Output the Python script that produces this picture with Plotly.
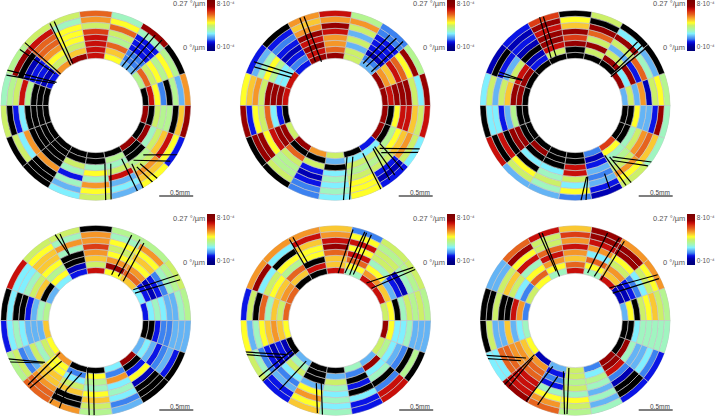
import plotly.graph_objects as go

# colour levels (x 10^-4), X = black (out of range)
N,B,M,L,C,A,G,Y,y,g,O,D,r,R,K = 0.5,1,1.5,2,2.5,3,3.5,4,4.5,5,5.5,6,6.5,7,7.5
X = None

# rows: 18 sectors counter-clockwise from east; columns: 8 rings inner -> outer
panel1 = [[X,R,y,M,X,G,L,O],[G,D,Y,y,G,y,G,X],[L,M,M,B,B,B,A,K],[y,g,D,G,Y,D,y,A],[R,R,R,R,r,Y,O,D],
          [K,g,Y,y,y,y,A,Y],[O,Y,y,O,D,D,R,Y],[B,N,B,B,N,X,K,G],[X,X,X,G,R,Y,G,A],[X,X,X,X,C,B,X,Y],
          [X,X,X,X,O,C,Y,X],[X,X,X,X,O,X,X,X],[X,X,Y,A,B,A,L,C],[X,X,A,y,A,O,y,Y],[X,G,A,Y,R,L,C,L],
          [K,X,X,G,Y,O,g,y],[X,K,A,Y,g,R,y,B],[K,X,Y,G,G,X,g,K]]
panel2 = [[K,R,K,K,K,Y,C,K],[K,O,g,R,D,y,K,G],[L,M,N,B,B,B,M,M],[Y,Y,L,Y,L,Y,O,G],[K,D,O,O,R,K,O,R],
          [K,R,K,R,K,O,g,O],[B,M,B,N,B,M,B,X],[R,C,C,G,y,A,L,B],[R,K,K,K,Y,O,g,y],[X,B,C,D,Y,y,B,K],
          [Y,K,K,R,y,K,K,X],[K,X,D,Y,G,G,Y,X],[O,X,Y,B,N,B,M,M],[Y,L,X,C,A,C,A,C],[X,C,Y,G,Y,y,y,y],
          [B,C,Y,G,Y,B,N,B],[K,X,G,y,g,O,Y,C],[K,X,y,R,R,g,Y,R]]
panel3 = [[L,Y,L,O,N,Y,y,G],[K,C,K,B,D,A,L,X],[X,K,Y,L,Y,K,C,X],[X,Y,K,Y,D,K,X,Y],[X,X,K,r,K,g,y,X],
          [X,Y,R,K,K,R,K,r],[X,B,N,X,N,B,N,B],[X,K,R,Y,L,B,X,N],[X,K,K,g,Y,L,Y,C],[X,X,G,L,B,C,C,X],
          [X,X,K,K,X,R,X,R],[X,K,X,C,X,y,Y,L],[X,X,X,C,A,Y,A,L],[X,X,R,R,Y,C,y,M],[M,N,B,L,M,L,B,N],
          [r,y,A,G,Y,O,y,Y],[X,X,A,Y,O,D,g,A],[X,X,y,L,L,B,K,A]]
panel4 = [[B,C,A,C,L,L,A,G],[C,B,N,B,M,A,G,Y],[g,D,O,y,g,y,O,G],[y,K,O,y,Y,y,A,G],[R,Y,g,O,r,O,O,X],
          [B,N,X,X,A,O,A,Y],[C,y,G,y,g,g,y,Y],[L,X,g,Y,A,C,C,R],[G,A,L,B,X,X,C,X],[g,L,L,L,C,A,C,B],
          [y,Y,A,Y,L,M,Y,G],[O,y,y,g,g,O,D,D],[X,M,C,Y,g,X,X,O],[X,y,G,A,y,g,Y,G],[C,M,O,C,A,C,M,L],
          [K,X,B,y,N,X,X,X],[L,C,L,B,M,L,B,X],[X,X,B,M,M,L,L,L]]
panel5 = [[Y,y,X,A,Y,G,Y,G],[R,g,L,B,N,A,G,Y],[R,O,y,A,Y,Y,G,Y],[A,y,D,R,y,R,y,M],[R,g,g,D,K,R,O,g],
          [X,R,X,y,y,g,R,O],[X,g,D,G,y,X,C,O],[D,O,g,y,Y,C,K,O],[D,Y,g,A,D,X,Y,B],[y,g,O,g,y,A,L,y],
          [X,N,B,N,B,M,A,Y],[L,A,Y,C,M,L,B,B],[X,X,X,L,y,O,y,g],[X,L,Y,A,C,A,C,A],[A,M,X,B,X,C,B,B],
          [L,K,C,A,X,M,R,R],[Y,G,C,L,M,X,G,X],[K,y,C,C,A,L,L,L]]
panel6 = [[L,y,X,Y,y,g,Y,G],[N,N,B,M,C,Y,y,O],[R,g,O,Y,y,K,K,O],[A,y,D,C,O,R,K,K],[R,D,g,O,R,O,r,g],
          [A,y,O,R,D,Y,Y,R],[y,D,y,A,R,y,K,D],[Y,M,C,Y,g,Y,L,L],[M,O,R,X,X,Y,X,X],[A,C,L,g,L,L,Y,X],
          [y,g,O,O,D,D,C,C],[N,O,D,D,R,R,R,K],[L,B,M,B,A,y,O,D],[Y,Y,G,Y,A,y,Y,G],[M,C,G,A,L,A,L,A],
          [K,K,R,M,N,X,X,B],[X,K,A,L,L,C,M,B],[X,X,C,A,A,A,A,A]]

# fibre tracks: theta1, r1, theta2, r2 (radial unit: ring = 18, inner = 141, outer = 285)
fibres1 = [[138.4,283,138.2,141],[119.1,281,121.8,142],[116.3,280,118.7,144],[158.2,285,149.5,136],[161.2,282,151.6,139],
           [143.5,282,142,154],[53.8,268,56,140],[49.8,276,49.4,140],[44.7,279,41.8,141],[279,176,276,286],[284.5,180,279.2,288],
           [296,177,296,285],[301.8,205,299.9,287],[303.8,221,306.7,289],[307.4,219,310.2,287],[329,286,314,205],[323.3,278,304.6,199]]
fibres2 = [[112,282,114.2,144],[109.3,282,107.4,137],[151.7,276,143.3,157],[154.5,269,147.3,156],[52.3,267,56.3,151],
           [47.7,272,51.3,149],[43.3,279,43.1,148],[283,157,275,284],[289,162,278.6,286],[300,165,298.6,288],[311.4,171,306.2,276],
           [313.8,170,310.6,274],[319.6,175,316.4,280],[316,185,332.8,284],[314.4,197,331,289]]
fibres3 = [[111.9,287,117,158],[109.7,282,111.3,157],[156.2,250,154.2,174],[158.6,249,154.5,176],[45.6,267,46,161],
           [41.9,271,40.8,155],[39,279,38.8,137],[279,216,273.5,284],[280,216,276.5,285],[300.6,173,302.5,283],[303.8,185,306,288],
           [293.3,222,292.5,269],[306,190,323.5,284],[304.3,199,320.3,283]]
fibres4 = [[115.4,285,111.8,207],[112.5,280,111.8,212],[67.2,277,71,145],[61.4,276,63,148],[58.2,273,55,143],[29,282,39.4,145],
           [25.8,280,35,143],[260,144,266,284],[267,142,269,283],[230,159,225.7,282],[222,144,223.5,279],[203.7,286,219.4,197],
           [205.8,285,219,202],[244.7,168,241,282],[255,163,247,225],[247,225,247.4,284]]
fibres5 = [[119.7,279,119.3,180],[117.2,280,115.7,180],[79.2,277,87,142],[71.8,279,79,145],[70.6,278,73,143],[67.4,278,69,147],
           [34.4,281,50.6,145],[32.7,282,42,144],[252.8,196,258.8,282],[257,192,262,285],[214,155,216.4,290],[218,157,219.5,283],
           [199,289,215.5,176],[200.8,287,215,194],[234,150,231,267]]
fibres6 = [[112.6,284,111.2,158],[110.7,280,109.6,140],[69.7,279,75.4,147],[61.9,280,66.6,144],[58.2,279,57.7,144],[29,282,43.6,141],
           [26.6,280,36,139],[257,156,263.5,282],[262.4,143,265,281],[220,159,222.2,286],[221.4,169,225,279],[201.3,287,217.3,185],
           [203.5,286,216.5,202],[244,153,238.7,283],[252.7,175,246,276]]

# chart centre x, centre y, in page pixels
centres = [(95.7,105.5),(335.2,105.5),(575.2,105.5),(95.8,320.5),(335.7,320.5),(575.2,320.5)]
panels = [panel1,panel2,panel3,panel4,panel5,panel6]
fibres = [fibres1,fibres2,fibres3,fibres4,fibres5,fibres6]
bar_left = [207,447.5,687,207,447.5,687]
tick_text = ["0·10⁻⁴","8·10⁻⁴"]
tick_vals = [0,8]

W,H = 715,416
RADIUS_PX = 95.3
INNER,RING,OUTER = 141,18,285
CMIN,CMAX = -0.7,8.7
palette = [(-0.7,"#00007a"),(0,"#00008c"),(0.5,"#0000b4"),(1,"#0a14e6"),(1.5,"#3c82f0"),(2,"#64b4f5"),(2.5,"#80f0ff"),
           (3,"#a0f5c0"),(3.5,"#b4f590"),(4,"#ccf068"),(4.5,"#ffff28"),(5,"#fac832"),(5.5,"#f59628"),(6,"#e6641e"),
           (6.5,"#dc3c14"),(7,"#c80f0a"),(7.5,"#960000"),(8.7,"#780000")]
scale = [[(v-CMIN)/(CMAX-CMIN),c] for v,c in palette]
GRID = "#c4c4c4"

fig = go.Figure()
layout = dict(width=W,height=H,margin=dict(l=0,r=0,t=0,b=0,autoexpand=False),paper_bgcolor="white",
              plot_bgcolor="white",showlegend=False,font=dict(family="Liberation Sans"))
annots,shapes = [],[]
for i,(grid,tracks,(cx,cy)) in enumerate(zip(panels,fibres,centres)):
    sub = "polar" if i==0 else f"polar{i+1}"
    th,rr,ba,col,bt,bb = [],[],[],[],[],[]
    for k,row in enumerate(grid):
        for j,v in enumerate(row):
            t = 10+20*k
            b = INNER+RING*j
            if v is None:
                bt.append(t); bb.append(b)
            else:
                th.append(t); ba.append(b); col.append(v)
    top_row = i<3
    bar_top = 0 if top_row else 214
    bar_len = 51
    fig.add_trace(go.Barpolar(theta=th,r=[RING]*len(th),base=ba,width=20,subplot=sub,hoverinfo="skip",
        marker=dict(color=col,colorscale=scale,cmin=CMIN,cmax=CMAX,line=dict(color=GRID,width=0.6),
            colorbar=dict(x=bar_left[i]/W,xanchor="left",y=1-bar_top/H,yanchor="top",len=bar_len,lenmode="pixels",
                thickness=8,thicknessmode="pixels",xpad=0,ypad=0,outlinewidth=0,ticks="",
                tickvals=tick_vals,ticktext=tick_text,tickfont=dict(size=6.5,color="#555555"),ticklabelposition="outside"))))
    fig.add_trace(go.Barpolar(theta=bt,r=[RING]*len(bt),base=bb,width=20,subplot=sub,hoverinfo="skip",
        marker=dict(color="#000000",line=dict(color=GRID,width=0.6))))
    ft,fr = [],[]
    for t1,r1,t2,r2 in tracks:
        ft += [t1,t2,None]; fr += [r1,r2,None]
    fig.add_trace(go.Scatterpolar(theta=ft,r=fr,mode="lines",subplot=sub,cliponaxis=False,hoverinfo="skip",
        line=dict(color="black",width=1.2)))
    layout[sub] = dict(domain=dict(x=[(cx-RADIUS_PX)/W,(cx+RADIUS_PX)/W],y=[1-(cy+RADIUS_PX)/H,1-(cy-RADIUS_PX)/H]),
        bgcolor="rgba(0,0,0,0)",barmode="overlay",
        radialaxis=dict(visible=False,range=[0,OUTER]),
        angularaxis=dict(visible=False))
    lab_top = 3.5 if top_row else 218.5
    lab_bot = 47 if top_row else 262
    for txt,yy in (("0.27 °/µm",lab_top),("0 °/µm",lab_bot)):
        annots.append(dict(text=txt,x=(bar_left[i]-0.5)/W,y=1-yy/H,xref="paper",yref="paper",xanchor="right",yanchor="middle",
            showarrow=False,font=dict(size=7.5,color="#555555")))
    sb_y = 196 if top_row else 410
    sb_x0 = cx+63.5
    shapes.append(dict(type="line",xref="paper",yref="paper",x0=sb_x0/W,x1=(sb_x0+34)/W,y0=1-sb_y/H,y1=1-sb_y/H,
        line=dict(color="black",width=1.2)))
    annots.append(dict(text="0.5mm",x=(sb_x0+21)/W,y=1-(sb_y-3.5)/H,xref="paper",yref="paper",xanchor="center",yanchor="middle",
        showarrow=False,font=dict(size=6.5,color="#444444")))
layout["annotations"] = annots
layout["shapes"] = shapes
fig.update_layout(**layout)
fig.write_html("out.html",config={"displayModeBar":False},post_script="document.body.style.margin='0';document.documentElement.style.overflow='hidden';")
